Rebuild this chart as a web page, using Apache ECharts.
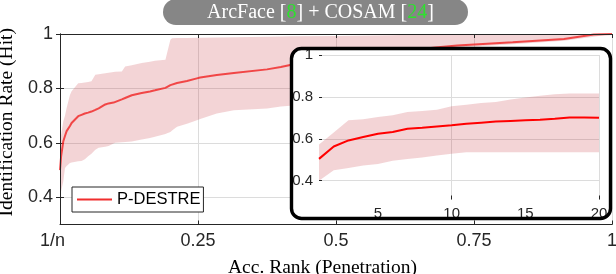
<!DOCTYPE html>
<html><head><meta charset="utf-8">
<script src="https://cdn.jsdelivr.net/npm/echarts@6/dist/echarts.min.js"></script>
<style>html,body{margin:0;padding:0;background:#fff}#c{width:616px;height:274px}</style>
</head><body><div id="c"></div>
<script>
// ---------- data ----------
const mainX     = [0, 0.002, 0.006, 0.009, 0.012, 0.018, 0.021, 0.033, 0.039, 0.045, 0.051, 0.057, 0.064, 0.070, 0.082, 0.088, 0.097, 0.100, 0.112, 0.118, 0.130, 0.148, 0.163, 0.172, 0.191, 0.194, 0.200, 0.203, 0.212, 0.230, 0.248, 0.254, 0.284, 0.315, 0.375, 0.400, 0.417, 0.500, 0.600, 0.680, 0.720, 0.820, 0.913, 0.967, 1.000];
const mainMean  = [0.500, 0.550, 0.606, 0.625, 0.643, 0.662, 0.673, 0.698, 0.703, 0.708, 0.711, 0.715, 0.721, 0.727, 0.741, 0.745, 0.748, 0.750, 0.760, 0.765, 0.775, 0.783, 0.789, 0.793, 0.802, 0.805, 0.812, 0.817, 0.820, 0.827, 0.837, 0.840, 0.849, 0.857, 0.870, 0.879, 0.886, 0.907, 0.932, 0.950, 0.958, 0.970, 0.982, 0.998, 1.000];
const mainUpper = [0.580, 0.630, 0.679, 0.700, 0.728, 0.776, 0.790, 0.819, 0.820, 0.822, 0.824, 0.826, 0.850, 0.852, 0.856, 0.858, 0.860, 0.861, 0.862, 0.881, 0.885, 0.893, 0.898, 0.902, 0.905, 0.930, 0.979, 0.984, 0.985, 0.985, 0.986, 0.986, 0.987, 0.988, 0.990, 0.991, 0.992, 0.993, 0.995, 1.000, 1.000, 1.000, 1.000, 1.000, 1.000];
const mainLower = [0.410, 0.422, 0.459, 0.508, 0.515, 0.526, 0.528, 0.532, 0.533, 0.540, 0.551, 0.560, 0.575, 0.582, 0.586, 0.588, 0.598, 0.600, 0.602, 0.603, 0.605, 0.612, 0.618, 0.622, 0.633, 0.635, 0.640, 0.645, 0.659, 0.670, 0.683, 0.688, 0.708, 0.720, 0.726, 0.734, 0.736, 0.800, 0.880, 0.940, 0.950, 0.962, 0.975, 0.990, 1.000];

const insetRank  = [1, 2, 3, 4, 5, 6, 7, 8, 9, 10, 11, 12, 13, 14, 15, 16, 17, 18, 19, 20];
const insetMean  = [0.504, 0.563, 0.592, 0.608, 0.624, 0.632, 0.648, 0.653, 0.659, 0.664, 0.672, 0.677, 0.682, 0.685, 0.688, 0.691, 0.696, 0.702, 0.702, 0.700];
const insetUpper = [0.573, 0.630, 0.688, 0.693, 0.704, 0.712, 0.728, 0.733, 0.739, 0.755, 0.763, 0.771, 0.776, 0.787, 0.797, 0.805, 0.813, 0.816, 0.816, 0.816];
const insetLower = [0.400, 0.450, 0.460, 0.472, 0.480, 0.495, 0.503, 0.510, 0.520, 0.528, 0.536, 0.536, 0.536, 0.536, 0.536, 0.536, 0.536, 0.536, 0.536, 0.536];

const mainXTicks      = [0, 0.25, 0.5, 0.75, 1];
const mainXTickLabels = ['1/n', '0.25', '0.5', '0.75', '1'];
const yTicks          = [0.4, 0.6, 0.8, 1];
const yTickLabels     = ['0.4', '0.6', '0.8', '1'];
const insetXLabels    = [5, 10, 15, 20];
const insetXTicks     = [10, 20];
const seriesName      = 'P-DESTRE';

// ---------- styles ----------
const BAND = 'rgba(200,60,70,0.22)';
const GRID = '#dcdcdc';
const AX = '#262626';
const SANS = 'Liberation Sans';
const SERIF = 'Liberation Serif';
const MAINLINE = 'rgba(240,45,45,0.85)';

function bandSeries(xs, lo, up, xi, yi, z) {
  return {
    type: 'custom', xAxisIndex: xi, yAxisIndex: yi, z: z, silent: true, clip: true,
    data: xs.map((x, i) => [x, lo[i], up[i]]),
    encode: { x: 0, y: [1, 2] },
    renderItem: function (params, api) {
      if (params.dataIndex !== 0) return;
      const pts = [];
      for (let i = 0; i < xs.length; i++) pts.push(api.coord([xs[i], up[i]]));
      for (let i = xs.length - 1; i >= 0; i--) pts.push(api.coord([xs[i], lo[i]]));
      return { type: 'polygon', shape: { points: pts }, style: { fill: BAND } };
    }
  };
}

const chart = echarts.init(document.getElementById('c'), null, { renderer: 'canvas' });
const boxShape = { x: 291.5, y: 48.5, width: 319, height: 170, r: 10 };

chart.setOption({
  animation: false,
  backgroundColor: '#fff',
  grid: [
    { left: 60, top: 34, width: 552, height: 190.5, containLabel: false, outerBoundsMode: 'none' },
    { left: 319, top: 55, width: 280, height: 144.5, z: 5, containLabel: false, outerBoundsMode: 'none' }
  ],
  legend: {
    data: [seriesName], left: 72, top: 187, orient: 'vertical',
    icon: 'rect', itemWidth: 35, itemHeight: 2,
    padding: [4, 3, 4, 5], itemGap: 0,
    borderColor: AX, borderWidth: 1, backgroundColor: '#fff',
    textStyle: { fontFamily: SANS, fontSize: 16.5, color: '#000', lineHeight: 17 }
  },
  xAxis: [
    { gridIndex: 0, type: 'value', min: 0, max: 1, position: 'bottom',
      axisLine: { show: true, lineStyle: { color: AX, width: 1 } },
      axisTick: { show: true, inside: true, length: 4, customValues: mainXTicks, lineStyle: { color: AX } },
      axisLabel: { customValues: mainXTicks, margin: 8, color: AX, fontFamily: SANS, fontSize: 18,
        formatter: v => { const s = mainXTickLabels[mainXTicks.indexOf(v)]; return v === 0 ? '{s|' + s + '}' : s; },
        rich: { s: { fontFamily: SANS, fontSize: 18, color: AX, width: 40, align: 'left' } } },
      splitLine: { show: true, lineStyle: { color: GRID } },
      name: 'Acc. Rank (Penetration)', nameLocation: 'middle', nameGap: 33,
      nameTextStyle: { fontFamily: SERIF, fontSize: 19.5, color: '#000', padding: [0, 27, 0, 0] } },
    { gridIndex: 0, type: 'value', min: 0, max: 1, position: 'top', z: 3,
      axisLine: { show: true, lineStyle: { color: AX, width: 1 } },
      axisTick: { show: true, inside: true, length: 4, customValues: mainXTicks, lineStyle: { color: AX } },
      axisLabel: { show: false }, splitLine: { show: false } },
    { gridIndex: 1, type: 'value', min: 1, max: 20, z: 6,
      axisLine: { show: false },
      axisTick: { show: true, inside: true, length: 4, customValues: insetXTicks, lineStyle: { color: AX } },
      axisLabel: { customValues: insetXLabels, margin: 7, color: AX, fontFamily: SANS, fontSize: 15 },
      splitLine: { show: true, lineStyle: { color: GRID } } }
  ],
  yAxis: [
    { gridIndex: 0, type: 'value', min: 0.3, max: 1,
      axisLine: { show: true, lineStyle: { color: AX, width: 1 } },
      axisTick: { show: true, inside: true, length: 4, customValues: yTicks, lineStyle: { color: AX } },
      axisLabel: { customValues: yTicks, margin: 7, color: AX, fontFamily: SANS, fontSize: 18,
        formatter: v => yTickLabels[yTicks.indexOf(v)] },
      splitLine: { show: true, lineStyle: { color: GRID } },
      name: 'Identification Rate (Hit)', nameLocation: 'middle', nameGap: 38, nameRotate: 90,
      nameTextStyle: { fontFamily: SERIF, fontSize: 19.5, color: '#000', padding: [0, 0, 0, 14] } },
    { gridIndex: 0, type: 'value', min: 0.3, max: 1, position: 'right', z: 3,
      axisLine: { show: true, lineStyle: { color: AX, width: 1 } },
      axisTick: { show: true, inside: true, length: 4, customValues: yTicks, lineStyle: { color: AX } },
      axisLabel: { show: false }, splitLine: { show: false } },
    { gridIndex: 1, type: 'value', min: 0.31, max: 1, z: 6,
      axisLine: { show: false },
      axisTick: { show: true, inside: true, length: 3, customValues: yTicks, lineStyle: { color: AX } },
      axisLabel: { customValues: yTicks, margin: 6, color: AX, fontFamily: SANS, fontSize: 15,
        formatter: v => yTickLabels[yTicks.indexOf(v)] },
      splitLine: { show: true, lineStyle: { color: GRID } } }
  ],
  series: [
    bandSeries(mainX, mainLower, mainUpper, 0, 0, 2),
    { name: seriesName, type: 'line', xAxisIndex: 0, yAxisIndex: 0, z: 2,
      data: mainX.map((x, i) => [x, mainMean[i]]), symbol: 'none', showSymbol: false,
      lineStyle: { color: MAINLINE, width: 2 }, itemStyle: { color: '#f02d2d' } },
    bandSeries(insetRank, insetLower, insetUpper, 2, 2, 6),
    { name: 'inset', type: 'line', xAxisIndex: 2, yAxisIndex: 2, z: 7,
      data: insetRank.map((r, i) => [r, insetMean[i]]), symbol: 'none', showSymbol: false,
      lineStyle: { color: '#ff0000', width: 2 } }
  ],
  graphic: [
    { type: 'rect', shape: boxShape, style: { fill: '#fff' }, z: 4, silent: true },
    { type: 'rect', shape: boxShape, style: { fill: null, stroke: '#000', lineWidth: 3.4 }, z: 8, silent: true },
    { type: 'rect', shape: { x: 163, y: -1, width: 305, height: 26, r: 13 }, style: { fill: '#868686' }, z: 9, silent: true },
    { type: 'text', x: 320.5, y: 12.5, z: 10, silent: true,
      style: { text: 'ArcFace [{g|8}] + COSAM [{g|24}]', fill: '#fff', fontFamily: SERIF, fontSize: 20,
        align: 'center', verticalAlign: 'middle',
        rich: { g: { fill: '#2ee02e', fontFamily: SERIF, fontSize: 20 } } } }
  ]
});
</script>
</body></html>
